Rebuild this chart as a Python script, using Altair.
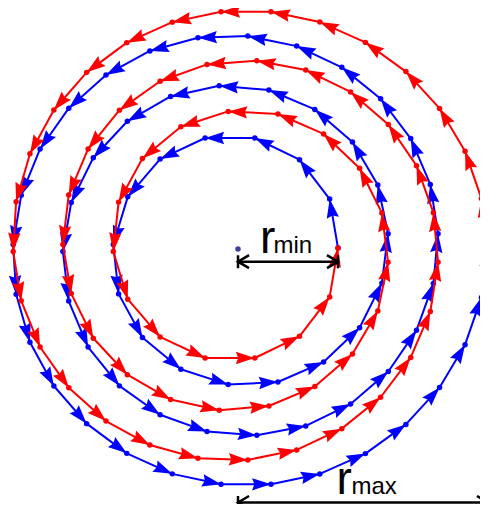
import math
import numpy as np
import pandas as pd
import altair as alt

# ---- data: vertices of the two spirals (polar angle in degrees, unwrapped; radius) ----
out_angle = [0.00, 28.09, 55.16, 81.32, 106.65, 131.22, 155.11, 178.36, 201.02, 223.15,
             244.76, 265.90, 286.60, 306.88, 326.76, 346.28, 365.44, 384.27, 402.79, 421.00,
             438.93, 456.59, 473.98, 491.13, 508.04, 524.71, 541.17, 557.41, 573.45, 589.30,
             604.95, 620.42, 635.72, 650.84, 665.80, 680.60, 695.24, 709.74, 724.09, 738.29,
             752.36, 766.30, 780.11, 793.79, 807.35, 820.79, 834.11, 847.33, 860.43, 873.42,
             886.31, 899.09, 911.78, 924.36, 936.85, 949.25, 961.56, 973.77, 985.90, 997.95,
             1009.91, 1021.79, 1033.58, 1045.30, 1056.94, 1068.51, 1080.00]
out_radius = [100.00, 103.90, 107.66, 111.29, 114.81, 118.23, 121.54, 124.77, 127.92, 130.99,
              133.99, 136.93, 139.81, 142.62, 145.38, 148.09, 150.76, 153.37, 155.94, 158.47,
              160.96, 163.42, 165.83, 168.21, 170.56, 172.88, 175.16, 177.42, 179.65, 181.85,
              184.02, 186.17, 188.29, 190.39, 192.47, 194.53, 196.56, 198.57, 200.57, 202.54,
              204.49, 206.43, 208.35, 210.25, 212.13, 214.00, 215.85, 217.68, 219.50, 221.31,
              223.10, 224.87, 226.64, 228.38, 230.12, 231.84, 233.55, 235.25, 236.93, 238.60,
              240.27, 241.91, 243.55, 245.18, 246.80, 248.40, 250.00]

in_angle = [0.00, 11.49, 23.06, 34.70, 46.42, 58.21, 70.09, 82.05, 94.10, 106.23,
            118.44, 130.75, 143.15, 155.64, 168.22, 180.91, 193.69, 206.58, 219.57, 232.67,
            245.89, 259.21, 272.65, 286.21, 299.89, 313.70, 327.64, 341.71, 355.91, 370.26,
            384.76, 399.40, 414.20, 429.16, 444.28, 459.58, 475.05, 490.70, 506.55, 522.59,
            538.83, 555.29, 571.96, 588.87, 606.02, 623.41, 641.07, 659.00, 677.21, 695.73,
            714.56, 733.72, 753.24, 773.12, 793.40, 814.10, 835.24, 856.85, 878.98, 901.64,
            924.89, 948.78, 973.35, 998.68, 1024.84, 1051.91, 1080.00]
in_radius = [250.00, 248.40, 246.80, 245.18, 243.55, 241.91, 240.27, 238.60, 236.93, 235.25,
             233.55, 231.84, 230.12, 228.38, 226.64, 224.87, 223.10, 221.31, 219.50, 217.68,
             215.85, 214.00, 212.13, 210.25, 208.35, 206.43, 204.49, 202.54, 200.57, 198.57,
             196.56, 194.53, 192.47, 190.39, 188.29, 186.17, 184.02, 181.85, 179.65, 177.42,
             175.16, 172.88, 170.56, 168.21, 165.83, 163.42, 160.96, 158.47, 155.94, 153.37,
             150.76, 148.09, 145.38, 142.62, 139.81, 136.93, 133.99, 130.99, 127.92, 124.77,
             121.54, 118.23, 114.81, 111.29, 107.66, 103.90, 100.00]

r_min = 100
r_max = 250

BLUE = "#0000ff"
RED = "#ff0000"

W, H = 472, 496
X_DOMAIN = [-230, -230 + W]
Y_DOMAIN = [240 - H, 240]


def xenc(field="x"):
    return alt.X(f"{field}:Q", scale=alt.Scale(domain=X_DOMAIN, nice=False, zero=False), axis=None)


def yenc(field="y"):
    return alt.Y(f"{field}:Q", scale=alt.Scale(domain=Y_DOMAIN, nice=False, zero=False), axis=None)


def spiral_table(angles, radii):
    t = np.radians(np.array(angles))
    r = np.array(radii)
    df = pd.DataFrame({"k": np.arange(len(r)), "x": r * np.cos(t), "y": r * np.sin(t)})
    dx = df["x"].diff()
    dy = df["y"].diff()
    df["ang"] = np.degrees(np.arctan2(dx, dy)) % 360
    return df


ARROW = "M0,0L-0.65,2L0,1.75L0.65,2Z"


def spiral_layers(df, color):
    line = alt.Chart(df).mark_line(color=color, strokeWidth=2, strokeJoin="round").encode(
        xenc(), yenc(), order="k:Q")
    dots = alt.Chart(df).mark_circle(color=color, size=30, opacity=1).encode(xenc(), yenc())
    heads = alt.Chart(df.iloc[1:]).mark_point(
        shape=ARROW, filled=True, color=color, size=361, opacity=1, strokeWidth=0
    ).encode(xenc(), yenc(), angle=alt.Angle("ang:Q", scale=None))
    return [line, dots, heads]


blue = spiral_table(out_angle, out_radius)
red = spiral_table(in_angle, in_radius)

center = pd.DataFrame({"x": [0], "y": [-1]})
center_dot = alt.Chart(center).mark_circle(color="#3f3f9f", size=30, opacity=1).encode(xenc(), yenc())

dims = pd.DataFrame({"lo": [0, 0], "hi": [r_min, r_max], "y": [-13.7, -254.5]})
shaft = alt.Chart(dims).mark_rule(color="black", strokeWidth=2.5).encode(
    x=xenc("lo"), x2="hi:Q", y=yenc())
LEFT_CAP = "M0,-1L0,1M1.7,-1L0,0L1.7,1"
RIGHT_CAP = "M0,-1L0,1M-1.7,-1L0,0L-1.7,1"
cap_l = alt.Chart(dims).mark_point(shape=LEFT_CAP, filled=False, color="black", size=169,
                                   strokeWidth=2.5, opacity=1).encode(x=xenc("lo"), y=yenc())
cap_r = alt.Chart(dims).mark_point(shape=RIGHT_CAP, filled=False, color="black", size=169,
                                   strokeWidth=2.5, opacity=1).encode(x=xenc("hi"), y=yenc())

labels = pd.DataFrame({
    "x": [22, 35.5, 98.5, 113.5],
    "y": [-5, -5, -245.5, -245.5],
    "text": ["r", "min", "r", "max"],
    "fs": [46, 24, 46, 24],
})
label_marks = alt.Chart(labels).mark_text(
    align="left", baseline="alphabetic", font="Liberation Sans", color="black"
).encode(xenc(), yenc(), text="text:N", size=alt.Size("fs:Q", scale=None))

layers = spiral_layers(blue, BLUE) + spiral_layers(red, RED) + [center_dot, shaft, cap_l, cap_r, label_marks]

chart = alt.layer(*layers).properties(
    width=W, height=H, padding=0, autosize=alt.AutoSizeParams(type="none"), background="white"
).configure_view(stroke=None)

chart.save("out.html", embed_options={"renderer": "svg", "actions": False})
